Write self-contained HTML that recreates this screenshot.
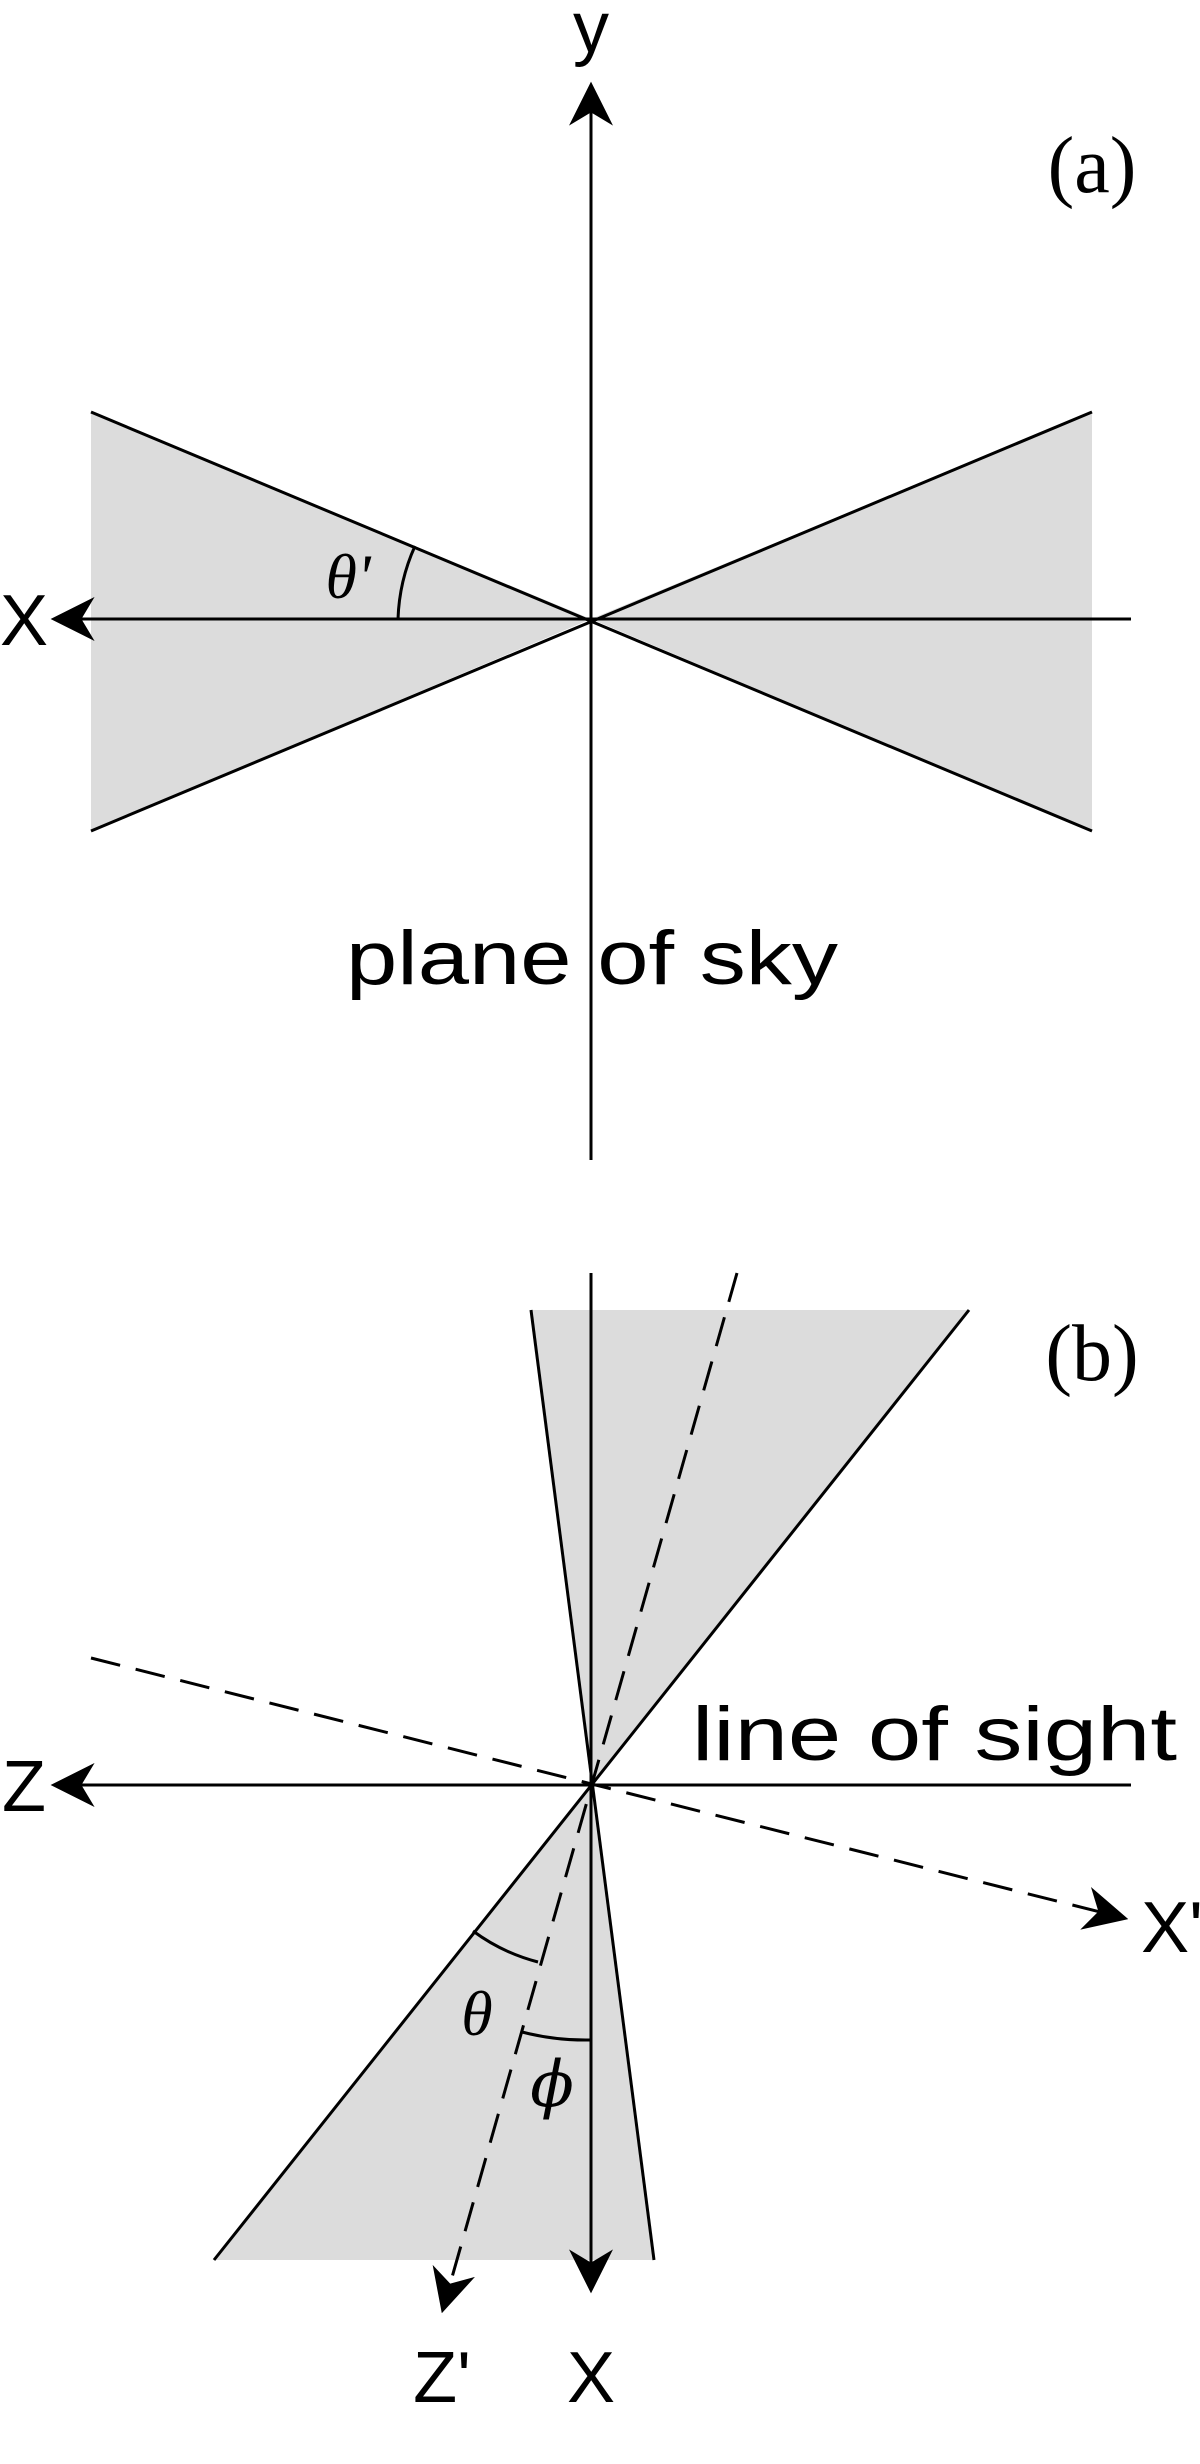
<!DOCTYPE html>
<html><head><meta charset="utf-8"><style>
html,body{margin:0;padding:0;background:#fff;}
svg{display:block}
text{font-family:"Liberation Sans",sans-serif;fill:#000}
</style></head><body>
<svg width="1200" height="2464" viewBox="0 0 1200 2464" xmlns="http://www.w3.org/2000/svg">
<defs>
<marker id="ahb" viewBox="0 0 20 20" refX="18" refY="10" markerWidth="44" markerHeight="44" markerUnits="userSpaceOnUse" orient="auto">
<path d="M0,0 L20,10 L0,20 L6,10 Z" fill="#000"/>
</marker>
</defs>
<g stroke="#000" stroke-width="3" fill="none">
<!-- Panel a -->
<polygon points="91,412 591,619 91,831" fill="#dcdcdc" stroke="none"/>
<polygon points="1092,412 591,619 1092,831" fill="#dcdcdc" stroke="none"/>
<line x1="91" y1="412" x2="1092" y2="831"/>
<line x1="91" y1="831" x2="1092" y2="412"/>
<line x1="591" y1="1160" x2="591" y2="86" marker-end="url(#ahb)"/>
<line x1="1131" y1="619" x2="55" y2="619" marker-end="url(#ahb)"/>
<path d="M398,619 A193,193 0 0 1 415,546"/>
<!-- Panel b -->
<polygon points="531,1310 969,1310 591,1785" fill="#dcdcdc" stroke="none"/>
<polygon points="214,2260 654,2260 591,1785" fill="#dcdcdc" stroke="none"/>
<line x1="531" y1="1310" x2="654" y2="2260"/>
<line x1="969" y1="1310" x2="214" y2="2260"/>
<line x1="591" y1="1273" x2="591" y2="2289" marker-end="url(#ahb)"/>
<line x1="1131" y1="1785" x2="55" y2="1785" marker-end="url(#ahb)"/>
<line x1="737" y1="1273" x2="443" y2="2309" stroke-dasharray="30,16" marker-end="url(#ahb)"/>
<line x1="91" y1="1658" x2="1124" y2="1918" stroke-dasharray="30,16" marker-end="url(#ahb)"/>
<path d="M473,1931 A188,188 0 0 0 538,1962"/>
<path d="M522,2032 A255,255 0 0 0 591,2040"/>
</g>
<!-- labels a -->
<text x="591" y="52" font-size="72" text-anchor="middle">y</text>
<text x="24" y="645" font-size="72" text-anchor="middle">X</text>
<text x="1092" y="192" font-size="80" text-anchor="middle" style="font-family:'Liberation Serif',serif">(a)</text>
<text x="348" y="598" font-size="64" font-style="italic" text-anchor="middle" style="font-family:'Liberation Serif',serif">θ'</text>
<text x="346" y="984" font-size="76" textLength="492" lengthAdjust="spacingAndGlyphs">plane of sky</text>
<!-- labels b -->
<text x="1092" y="1380" font-size="80" text-anchor="middle" style="font-family:'Liberation Serif',serif">(b)</text>
<text x="24" y="1811" font-size="72" text-anchor="middle">Z</text>
<text x="692" y="1760" font-size="76" textLength="485" lengthAdjust="spacingAndGlyphs">line of sight</text>
<text x="1172" y="1952" font-size="72" text-anchor="middle">X'</text>
<text x="442" y="2402" font-size="72" text-anchor="middle">Z'</text>
<text x="591" y="2402" font-size="72" text-anchor="middle">X</text>
<text x="477" y="2035" font-size="64" font-style="italic" text-anchor="middle" style="font-family:'Liberation Serif',serif">θ</text>
<text x="552" y="2106" font-size="64" font-style="italic" text-anchor="middle" style="font-family:'DejaVu Serif',serif">ϕ</text>
</svg>
</body></html>
